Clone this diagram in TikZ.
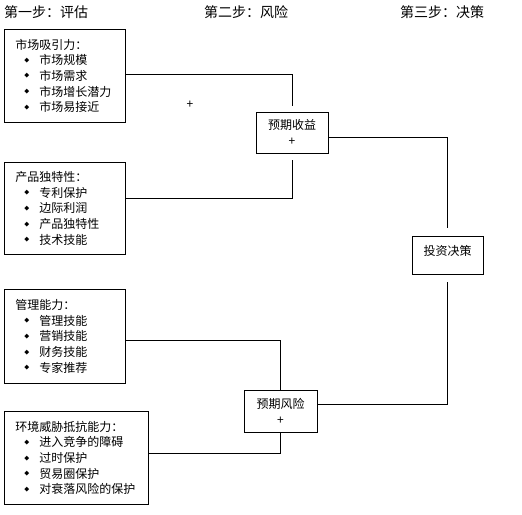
\documentclass[tikz,border=0pt]{standalone}
\usepackage{fontspec}
\setmainfont{Noto Sans CJK SC}
\usetikzlibrary{positioning}
\newcommand{\itm}[1]{\hspace*{9pt}\raisebox{2.5pt}{\fontsize{5}{5}\selectfont ◆}\hspace{10pt}#1}

\begin{document}
\begin{tikzpicture}[
  x=1pt, y=-1pt,
  head/.style={anchor=west, inner sep=0pt, font=\fontsize{14}{16}\selectfont},
  factor/.style={draw, line width=0.8pt, anchor=north west, align=left, inner xsep=11pt, inner ysep=0pt, text width=99pt, font=\fontsize{12}{15.6}\selectfont},
  sum/.style={draw, line width=0.8pt, align=center, inner sep=0pt, font=\fontsize{12}{16}\selectfont},
  link/.style={line width=0.8pt}
]
\useasboundingbox (0,0) rectangle (522,514);

\node[head] (step1) at (4,12) {第一步：评估};
\node[head] (step2) at (204,12) {第二步：风险};
\node[head] (step3) at (400,12) {第三步：决策};

\node[factor, minimum height=93pt] (mkt) at (4,29) {市场吸引力：\\\itm{市场规模}\\\itm{市场需求}\\\itm{市场增长潜力}\\\itm{市场易接近}};
\node[factor, minimum height=92pt] (prod) at (4,162) {产品独特性：\\\itm{专利保护}\\\itm{边际利润}\\\itm{产品独特性}\\\itm{技术技能}};
\node[factor, minimum height=94pt] (mgmt) at (4,289) {管理能力：\\\itm{管理技能}\\\itm{营销技能}\\\itm{财务技能}\\\itm{专家推荐}};
\node[factor, minimum height=93pt, text width=122pt] (env) at (4,411) {环境威胁抵抗能力：\\\itm{进入竞争的障碍}\\\itm{过时保护}\\\itm{贸易圈保护}\\\itm{对衰落风险的保护}};

\node[sum, minimum width=72pt, minimum height=41pt] (ret) at (292,132.5) {预期收益\\+};
\node[sum, minimum width=71pt, minimum height=38pt, text depth=9pt] (dec) at (447.5,255) {投资决策};
\node[sum, minimum width=73pt, minimum height=42pt] (risk) at (280.5,411) {预期风险\\+};

\node[inner sep=0pt, font=\fontsize{12}{14}\selectfont] (plus) at (190,105) {+};

\draw[link] ([yshift=1.5pt]mkt.east) -| ([yshift=6pt]ret.north);
\draw[link] ([yshift=10pt]prod.east) -| ([yshift=-7pt]ret.south);
\draw[link] ([yshift=-4.5pt]ret.east) -| ([yshift=8pt]dec.north);
\draw[link] ([yshift=-8pt]dec.south) |- ([yshift=7pt]risk.east);
\draw[link] ([yshift=-4pt]mgmt.east) -| (risk.north);
\draw[link] ([yshift=4.5pt]env.east) -| (risk.south);
\end{tikzpicture}
\end{document}
